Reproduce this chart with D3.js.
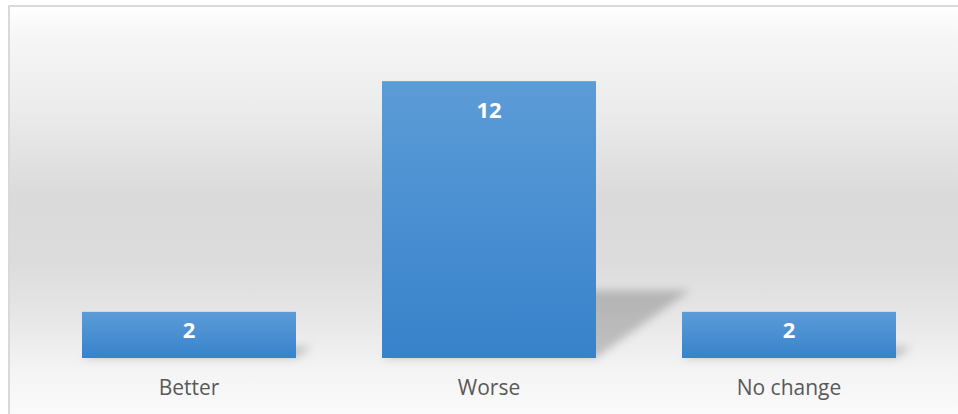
<!DOCTYPE html>
<html>
<head>
<meta charset="utf-8">
<script src="https://cdn.jsdelivr.net/npm/d3@7"></script>
<style>
  html, body { margin: 0; padding: 0; background: #ffffff; }
  svg { display: block; }
</style>
</head>
<body>
<svg id="chart" width="958" height="414"></svg>
<script>
// Responses per outcome
const categories = ["Better", "Worse", "No change"];
const counts = [2, 12, 2];
const yDomain = [0, 14];

const W = 958, H = 414;
const svg = d3.select("#chart");
const defs = svg.append("defs");

// Chart-area background: white at the top, grey band in the middle, white at the bottom
const bg = defs.append("linearGradient")
  .attr("id", "bgGrad").attr("x1", 0).attr("y1", 0).attr("x2", 0).attr("y2", 1);
[[0, "#ffffff"], [0.07, "#f6f6f6"], [0.25, "#ebebeb"], [0.45, "#dadada"], [0.6, "#dcdcdc"],
 [0.72, "#e5e5e5"], [0.86, "#f4f4f4"], [1, "#fdfdfd"]]
  .forEach(([o, c]) => bg.append("stop").attr("offset", o).attr("stop-color", c));

// Bar fill: lighter blue at the top, deeper blue at the bottom
const barGrad = defs.append("linearGradient")
  .attr("id", "barGrad").attr("x1", 0).attr("y1", 0).attr("x2", 0).attr("y2", 1);
barGrad.append("stop").attr("offset", 0).attr("stop-color", "#5c9cd7");
barGrad.append("stop").attr("offset", 1).attr("stop-color", "#3782cb");

// Soft blur for the cast shadows
defs.append("filter").attr("id", "shadowBlur")
  .attr("x", "-50%").attr("y", "-50%").attr("width", "200%").attr("height", "200%")
  .append("feGaussianBlur").attr("stdDeviation", 4);

// Chart frame
svg.append("rect")
  .attr("x", 9).attr("y", 6).attr("width", W + 10).attr("height", H + 10)
  .attr("fill", "url(#bgGrad)")
  .attr("stroke", "#d9d9d9").attr("stroke-width", 2);

const x = d3.scaleBand()
  .domain(categories)
  .range([39, 939])
  .paddingInner(0.2867)
  .paddingOuter(0.1433);

const y = d3.scaleLinear().domain(yDomain).range([358, 35]);

const data = categories.map((c, i) => ({ cat: c, value: counts[i] }));

// Perspective shadows cast up and to the right of each bar
const skewX = 0.34, skewY = 0.245;
svg.append("g")
  .attr("filter", "url(#shadowBlur)")
  .selectAll("path")
  .data(data)
  .join("path")
  .attr("d", d => {
    const x0 = x(d.cat), x1 = x0 + x.bandwidth();
    const base = y(0), h = y(0) - y(d.value);
    const dx = skewX * h, dy = skewY * h;
    return `M${x0},${base}L${x1},${base}L${x1 + dx},${base - dy}L${x0 + dx},${base - dy}Z`;
  })
  .attr("fill", "#000")
  .attr("fill-opacity", 0.2);

// Bars
svg.append("g")
  .selectAll("rect")
  .data(data)
  .join("rect")
  .attr("x", d => x(d.cat))
  .attr("y", d => y(d.value))
  .attr("width", x.bandwidth())
  .attr("height", d => y(0) - y(d.value))
  .attr("fill", "url(#barGrad)");

// Value labels inside the bar ends
svg.append("g")
  .selectAll("text")
  .data(data)
  .join("text")
  .attr("x", d => x(d.cat) + x.bandwidth() / 2)
  .attr("y", d => {
    const h = y(0) - y(d.value);
    return y(d.value) + Math.min(37, h / 2 + 3.5);
  })
  .attr("text-anchor", "middle")
  .attr("font-family", "'Open Sans', sans-serif")
  .attr("font-weight", 700)
  .attr("font-size", 22)
  .attr("fill", "#ffffff")
  .text(d => d.value);

// Category axis labels
const xAxis = d3.axisBottom(x).tickSize(0).tickPadding(0);
const gx = svg.append("g").attr("transform", `translate(0,${y(0)})`).call(xAxis);
gx.select(".domain").remove();
gx.selectAll("text")
  .attr("dy", 0)
  .attr("y", 37)
  .attr("font-family", "'Open Sans', sans-serif")
  .attr("font-size", 21)
  .attr("fill", "#595959");
</script>
</body>
</html>
